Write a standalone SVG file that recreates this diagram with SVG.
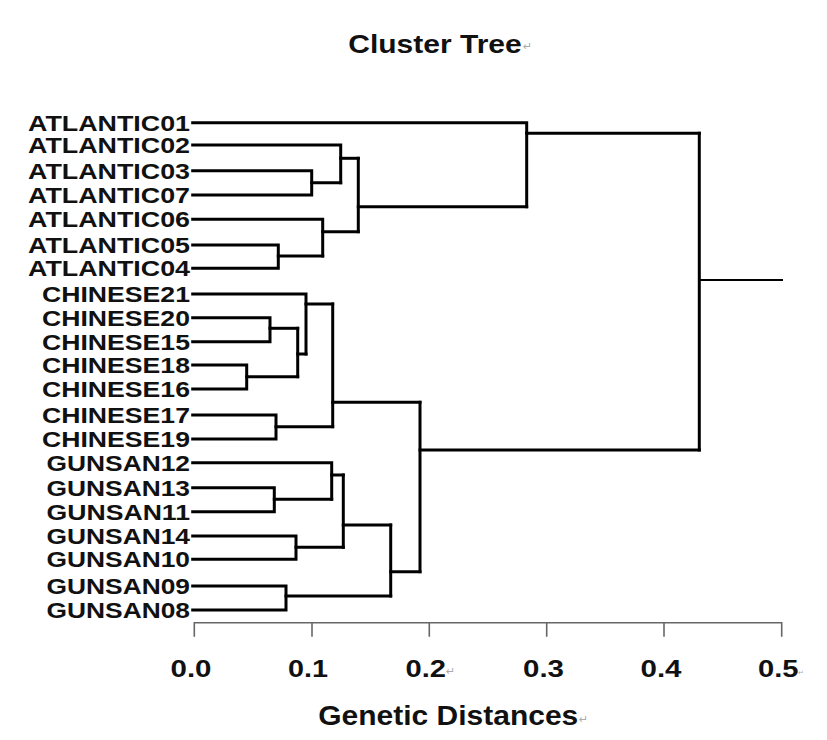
<svg xmlns="http://www.w3.org/2000/svg" width="827" height="740" viewBox="0 0 827 740">
<style>
.lbl{font-family:"Liberation Sans",Arial,sans-serif;font-weight:bold;font-size:22px;fill:#111}
.tick{font-family:"Liberation Sans",Arial,sans-serif;font-weight:bold;font-size:24px;fill:#111}
.ttl{font-family:"Liberation Sans",Arial,sans-serif;font-weight:bold;font-size:26px;fill:#111}
.ret{font-family:"DejaVu Sans",sans-serif;font-size:11px;fill:#aaa}
.br{fill:none;stroke:#000;stroke-width:3;stroke-linejoin:miter;stroke-linecap:square}
.axis{fill:none;stroke:#666;stroke-width:1.6}
</style>
<rect width="827" height="740" fill="#fff"/>
<g id="title">
<text class="ttl" x="348.3" y="52.7" textLength="173.4" lengthAdjust="spacingAndGlyphs">Cluster Tree</text>
<text class="ret" x="523" y="50">↵</text>
</g>
<g id="connectors">
<path class="br" d="M192.7,170.7 H311.7 V195 H192.7"/>
<path class="br" d="M311.7,182.7 H340.7"/>
<path class="br" d="M192.7,145 H340.7 V182.7"/>
<path class="br" d="M340.7,158.3 H358.3"/>
<path class="br" d="M192.7,245 H278.3 V268.3 H192.7"/>
<path class="br" d="M278.3,256 H322.7"/>
<path class="br" d="M192.7,219.3 H322.7 V256"/>
<path class="br" d="M322.7,231.7 H358.3"/>
<path class="br" d="M358.3,158.3 V231.7"/>
<path class="br" d="M358.3,206.7 H526.7"/>
<path class="br" d="M192.7,122.7 H526.7 V206.7"/>
<path class="br" d="M526.7,133.3 H699.3"/>
<path class="br" d="M192.7,317.7 H270 V341.7 H192.7"/>
<path class="br" d="M270,328.3 H297.7"/>
<path class="br" d="M192.7,365 H246.7 V389 H192.7"/>
<path class="br" d="M246.7,376.7 H297.7"/>
<path class="br" d="M297.7,328.3 V376.7"/>
<path class="br" d="M297.7,354 H306"/>
<path class="br" d="M192.7,294 H306 V354"/>
<path class="br" d="M306,304 H332.7"/>
<path class="br" d="M192.7,415 H276 V439 H192.7"/>
<path class="br" d="M276,426.7 H332.7"/>
<path class="br" d="M332.7,304 V426.7"/>
<path class="br" d="M332.7,402.3 H420"/>
<path class="br" d="M192.7,487.7 H274.3 V511.7 H192.7"/>
<path class="br" d="M274.3,499.3 H331.7"/>
<path class="br" d="M192.7,462.7 H331.7 V499.3"/>
<path class="br" d="M331.7,475 H343.3"/>
<path class="br" d="M192.7,536 H296 V559.3 H192.7"/>
<path class="br" d="M296,547.3 H343.3"/>
<path class="br" d="M343.3,475 V547.3"/>
<path class="br" d="M343.3,525 H390.7"/>
<path class="br" d="M192.7,586 H286 V610 H192.7"/>
<path class="br" d="M286,596 H390.7"/>
<path class="br" d="M390.7,525 V596"/>
<path class="br" d="M390.7,571.7 H420"/>
<path class="br" d="M420,402.3 V571.7"/>
<path class="br" d="M420,450 H699.3"/>
<path class="br" d="M699.3,133.3 V450"/>
<path d="M699.3,280 H783" fill="none" stroke="#000" stroke-width="2.2"/>
</g>
<g id="leaves">
<g id="ATLANTIC01"><text class="lbl" x="28" y="130.7" textLength="162" lengthAdjust="spacingAndGlyphs">ATLANTIC01</text></g>
<g id="ATLANTIC02"><text class="lbl" x="28" y="153" textLength="162" lengthAdjust="spacingAndGlyphs">ATLANTIC02</text></g>
<g id="ATLANTIC03"><text class="lbl" x="28" y="178.7" textLength="162" lengthAdjust="spacingAndGlyphs">ATLANTIC03</text></g>
<g id="ATLANTIC07"><text class="lbl" x="28" y="203" textLength="162" lengthAdjust="spacingAndGlyphs">ATLANTIC07</text></g>
<g id="ATLANTIC06"><text class="lbl" x="28" y="227.3" textLength="162" lengthAdjust="spacingAndGlyphs">ATLANTIC06</text></g>
<g id="ATLANTIC05"><text class="lbl" x="28" y="253" textLength="162" lengthAdjust="spacingAndGlyphs">ATLANTIC05</text></g>
<g id="ATLANTIC04"><text class="lbl" x="28" y="276.3" textLength="162" lengthAdjust="spacingAndGlyphs">ATLANTIC04</text></g>
<g id="CHINESE21"><text class="lbl" x="42" y="302" textLength="148" lengthAdjust="spacingAndGlyphs">CHINESE21</text></g>
<g id="CHINESE20"><text class="lbl" x="42" y="325.7" textLength="148" lengthAdjust="spacingAndGlyphs">CHINESE20</text></g>
<g id="CHINESE15"><text class="lbl" x="42" y="349.7" textLength="148" lengthAdjust="spacingAndGlyphs">CHINESE15</text></g>
<g id="CHINESE18"><text class="lbl" x="42" y="373" textLength="148" lengthAdjust="spacingAndGlyphs">CHINESE18</text></g>
<g id="CHINESE16"><text class="lbl" x="42" y="397" textLength="148" lengthAdjust="spacingAndGlyphs">CHINESE16</text></g>
<g id="CHINESE17"><text class="lbl" x="42" y="423" textLength="148" lengthAdjust="spacingAndGlyphs">CHINESE17</text></g>
<g id="CHINESE19"><text class="lbl" x="42" y="447" textLength="148" lengthAdjust="spacingAndGlyphs">CHINESE19</text></g>
<g id="GUNSAN12"><text class="lbl" x="46.5" y="470.7" textLength="143.5" lengthAdjust="spacingAndGlyphs">GUNSAN12</text></g>
<g id="GUNSAN13"><text class="lbl" x="46.5" y="495.7" textLength="143.5" lengthAdjust="spacingAndGlyphs">GUNSAN13</text></g>
<g id="GUNSAN11"><text class="lbl" x="46.5" y="519.7" textLength="143.5" lengthAdjust="spacingAndGlyphs">GUNSAN11</text></g>
<g id="GUNSAN14"><text class="lbl" x="46.5" y="544" textLength="143.5" lengthAdjust="spacingAndGlyphs">GUNSAN14</text></g>
<g id="GUNSAN10"><text class="lbl" x="46.5" y="567.3" textLength="143.5" lengthAdjust="spacingAndGlyphs">GUNSAN10</text></g>
<g id="GUNSAN09"><text class="lbl" x="46.5" y="594" textLength="143.5" lengthAdjust="spacingAndGlyphs">GUNSAN09</text></g>
<g id="GUNSAN08"><text class="lbl" x="46.5" y="618" textLength="143.5" lengthAdjust="spacingAndGlyphs">GUNSAN08</text></g>
</g>
<g id="axis">
<path class="axis" d="M194.3,636.7 V622.7 H781.7 V636.7 M312,622.7 V636.7 M429.3,622.7 V636.7 M546.7,622.7 V636.7 M664,622.7 V636.7"/>
<text class="tick" x="170.5" y="676.7" textLength="41" lengthAdjust="spacingAndGlyphs">0.0</text>
<text class="tick" x="288" y="676.7" textLength="40" lengthAdjust="spacingAndGlyphs">0.1</text>
<text class="tick" x="405.5" y="676.7" textLength="40.5" lengthAdjust="spacingAndGlyphs">0.2</text>
<text class="ret" x="446" y="675">↵</text>
<text class="tick" x="523" y="676.7" textLength="41" lengthAdjust="spacingAndGlyphs">0.3</text>
<text class="tick" x="640.5" y="676.7" textLength="41" lengthAdjust="spacingAndGlyphs">0.4</text>
<text class="tick" x="758" y="676.7" textLength="40.5" lengthAdjust="spacingAndGlyphs">0.5</text>
<text class="ret" x="798" y="675" style="font-size:7px">↵</text>
<text class="ttl" x="318.3" y="725" textLength="260" lengthAdjust="spacingAndGlyphs" style="font-size:27px">Genetic Distances</text>
<text class="ret" x="579" y="723">↵</text>
</g>
</svg>
